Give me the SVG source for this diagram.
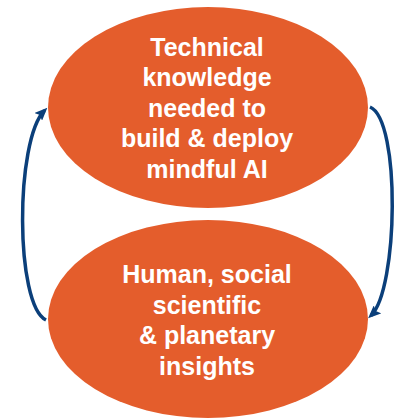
<svg xmlns="http://www.w3.org/2000/svg" width="398" height="418" viewBox="0 0 398 418">
  <style>
    .node { fill: #E45D2C; }
    .label { fill: #FFFFFF; font-family: "Liberation Sans", Arial, sans-serif; font-weight: bold; font-size: 25px; text-anchor: middle; }
    .link { fill: none; stroke: #0B3F7A; stroke-width: 3.5; }
  </style>
  <defs>
    <marker id="arrow" viewBox="0 0 13 11" refX="9" refY="5.5" markerWidth="13" markerHeight="11" markerUnits="userSpaceOnUse" orient="auto">
      <path d="M0,0 L13,5.5 L0,11 L2.5,5.5 Z" fill="#0B3F7A"/>
    </marker>
  </defs>
  <rect width="398" height="418" fill="#FFFFFF"/>

  <g id="connectors">
    <path class="link" d="M46,320 C15,305 15,140 44.5,110.5" marker-end="url(#arrow)"/>
    <path class="link" d="M370,107 C401,120 398,290 371,315.5" marker-end="url(#arrow)"/>
  </g>

  <g id="technical-knowledge">
    <ellipse class="node" cx="208" cy="107.5" rx="160" ry="100.5"/>
    <text class="label" x="207" y="55.5">Technical</text>
    <text class="label" x="207" y="86">knowledge</text>
    <text class="label" x="207" y="116.5">needed to</text>
    <text class="label" x="207" y="147">build &amp; deploy</text>
    <text class="label" x="207" y="177.5">mindful AI</text>
  </g>

  <g id="human-insights">
    <ellipse class="node" cx="208" cy="319" rx="160" ry="99"/>
    <text class="label" x="207" y="283">Human, social</text>
    <text class="label" x="207" y="313.5">scientific</text>
    <text class="label" x="207" y="344">&amp; planetary</text>
    <text class="label" x="207" y="374.5">insights</text>
  </g>
</svg>
